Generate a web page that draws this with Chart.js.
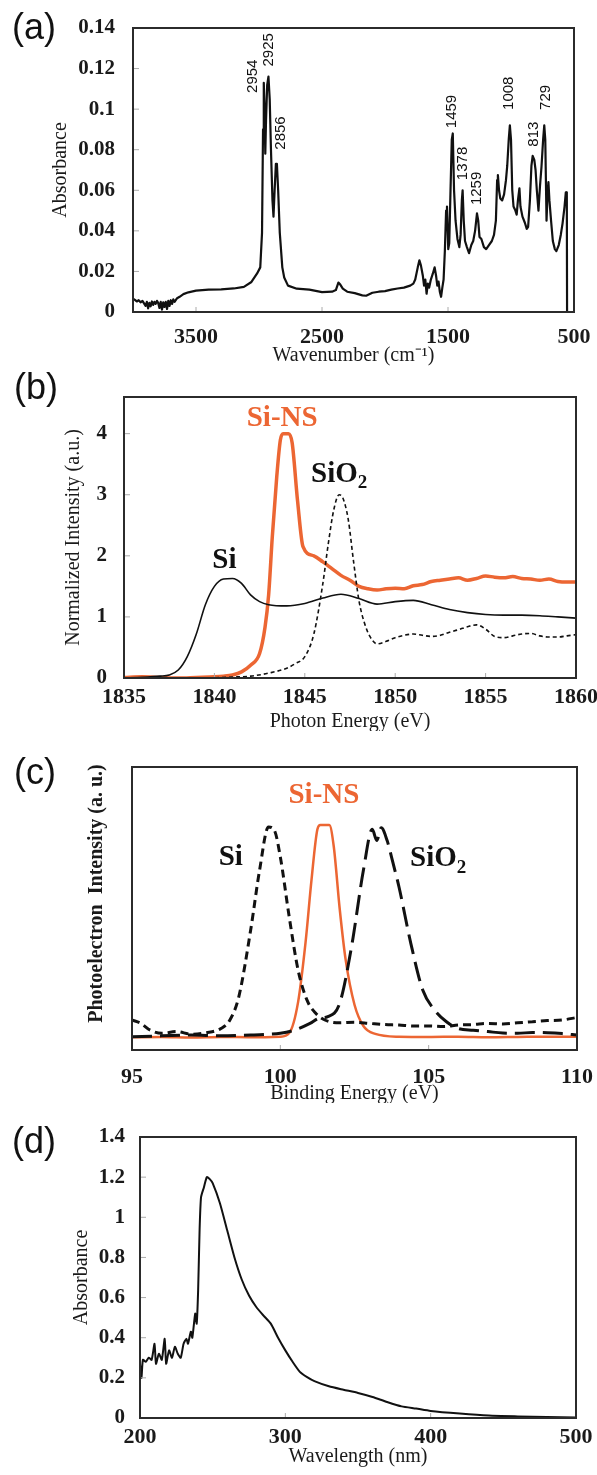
<!DOCTYPE html>
<html>
<head>
<meta charset="utf-8">
<script src="https://cdn.jsdelivr.net/npm/chart.js@4.4.0/dist/chart.umd.min.js"></script>
<style>
  body { margin: 0; background: #fff; width: 597px; height: 1475px; position: relative; overflow: hidden; }
  .panel { position: absolute; left: 0; width: 597px; overflow: hidden; }
  .panel canvas { display: block; }
  .tag { position: absolute; font-family: "Liberation Sans", Arial, sans-serif; font-size: 36px; line-height: 1; color: #111; }
</style>
</head>
<body>
<div class="panel" style="top:0;height:372px"><canvas id="chartA" width="597" height="372"></canvas></div>
<div class="panel" style="top:372px;height:359px"><canvas id="chartB" width="597" height="359"></canvas></div>
<div class="panel" style="top:731px;height:372px"><canvas id="chartC" width="597" height="372"></canvas></div>
<div class="panel" style="top:1103px;height:372px"><canvas id="chartD" width="597" height="372"></canvas></div>
<div class="tag" style="left:12px;top:9px">(a)</div>
<div class="tag" style="left:14px;top:369px">(b)</div>
<div class="tag" style="left:14px;top:754px">(c)</div>
<div class="tag" style="left:12px;top:1123px">(d)</div>

<script>
// (a) FTIR
const wnA = [4000,3985,3970,3955,3940,3925,3910,3900,3890,3880,3870,3860,3850,3840,3830,3820,3810,3800,3790,3780,3770,3760,3750,3740,3730,3720,3710,3700,3690,3680,3670,3650,3630,3600,3560,3500,3400,3300,3200,3120,3060,3015,2990,2976,2968,2962,2956,2950,2944,2935,2925,2915,2905,2893,2885,2876,2866,2858,2848,2835,2815,2800,2770,2700,2600,2500,2420,2390,2370,2355,2335,2300,2240,2180,2150,2100,2050,2000,1950,1900,1850,1800,1775,1760,1740,1727,1715,1700,1690,1680,1670,1660,1650,1636,1620,1606,1595,1585,1575,1565,1555,1545,1535,1525,1515,1508,1498,1490,1480,1470,1462,1452,1440,1425,1410,1400,1390,1384,1375,1365,1350,1333,1315,1300,1285,1270,1260,1250,1235,1215,1197,1175,1152,1135,1120,1110,1104,1095,1085,1070,1055,1040,1030,1018,1009,1000,990,980,965,955,945,933,925,909,890,875,864,850,838,828,815,805,795,782,770,758,745,736,728,718,712,703,695,682,668,652,640,621,605,591,575,565,560,557,555,500];
const absA = [0.0066,0.0060,0.0052,0.0058,0.0048,0.0055,0.0040,0.0030,0.0050,0.0018,0.0045,0.0028,0.0052,0.0035,0.0050,0.0040,0.0055,0.0045,0.0020,0.0050,0.0012,0.0048,0.0025,0.0050,0.0015,0.0055,0.0030,0.0058,0.0040,0.0062,0.0050,0.0068,0.0075,0.0088,0.0097,0.0105,0.0110,0.0112,0.0116,0.0124,0.0148,0.019,0.022,0.039,0.09,0.113,0.1,0.078,0.095,0.112,0.116,0.105,0.08,0.055,0.047,0.06,0.073,0.073,0.06,0.039,0.022,0.017,0.013,0.0115,0.011,0.0098,0.0100,0.0108,0.0145,0.0135,0.0115,0.0100,0.0093,0.0082,0.0080,0.0095,0.0100,0.0103,0.0110,0.0116,0.0120,0.0130,0.0140,0.0160,0.022,0.0255,0.023,0.018,0.013,0.016,0.009,0.014,0.012,0.016,0.019,0.022,0.018,0.013,0.015,0.010,0.0075,0.012,0.016,0.030,0.050,0.052,0.031,0.034,0.060,0.085,0.088,0.060,0.045,0.036,0.032,0.038,0.055,0.060,0.045,0.035,0.032,0.029,0.033,0.035,0.040,0.0486,0.045,0.037,0.036,0.032,0.031,0.033,0.035,0.038,0.045,0.065,0.0675,0.060,0.056,0.055,0.058,0.065,0.072,0.085,0.092,0.085,0.060,0.052,0.050,0.048,0.055,0.061,0.052,0.047,0.044,0.041,0.042,0.055,0.072,0.077,0.075,0.070,0.060,0.050,0.062,0.0716,0.085,0.092,0.085,0.045,0.055,0.064,0.055,0.045,0.035,0.031,0.030,0.033,0.038,0.0436,0.052,0.059,0.059,0.058,0,0];
const xTicksA = [3500, 2500, 1500, 500];
const yTicksA = [0, 0.02, 0.04, 0.06, 0.08, 0.1, 0.12, 0.14];
const peakLabels = ['2954', '2925', '2856', '1459', '1378', '1259', '1008', '813', '729'];
const peakLabelX = [3045, 2924, 2827, 1470, 1379, 1273, 1015, 818, 721];
const peakLabelY = [0.108, 0.121, 0.080, 0.0906, 0.065, 0.0527, 0.0996, 0.0815, 0.0996];

// (b) XANES
const evSi = [1835,1836,1837,1837.5,1838,1838.5,1839,1839.5,1840,1840.5,1841,1841.5,1842,1842.5,1843,1844,1845,1846,1847,1848,1849,1850,1851,1852,1853,1854,1855,1856,1857,1858,1859,1860];
const siB = [0,0.01,0.03,0.05,0.13,0.35,0.72,1.2,1.5,1.62,1.63,1.55,1.36,1.25,1.2,1.18,1.22,1.31,1.37,1.3,1.21,1.25,1.27,1.2,1.12,1.07,1.04,1.03,1.03,1.02,1.0,0.98];
const evNS = [1835,1836,1837,1838,1839,1840,1840.5,1841,1841.5,1842,1842.5,1842.8,1843,1843.2,1843.45,1843.65,1843.8,1844.1,1844.3,1844.6,1844.9,1845.5,1846,1846.5,1847,1847.5,1848,1848.5,1849,1849.5,1850,1850.5,1851,1851.5,1852,1852.5,1853,1853.5,1854,1854.5,1855,1855.5,1856,1856.5,1857,1857.5,1858,1858.5,1859,1859.5,1860];
const nsB = [0.01,0.02,0.01,0,0.01,0.02,0.03,0.05,0.1,0.21,0.4,0.83,1.36,2.3,3.3,3.9,4.0,4.0,3.85,2.9,2.15,2.0,1.9,1.79,1.68,1.6,1.5,1.46,1.44,1.46,1.47,1.46,1.51,1.53,1.58,1.6,1.62,1.64,1.6,1.63,1.67,1.65,1.64,1.66,1.63,1.62,1.6,1.62,1.58,1.57,1.57];
const evOx = [1835,1838,1840,1841,1842,1843,1844,1844.5,1845,1845.5,1846,1846.3,1846.6,1846.9,1847.1,1847.4,1847.7,1848,1848.3,1848.6,1849,1849.5,1850,1850.5,1851,1851.5,1852,1852.5,1853,1853.5,1854,1854.5,1855,1855.5,1856,1856.5,1857,1857.5,1858,1858.5,1859,1859.5,1860];
const oxB = [0,0,0.005,0.015,0.03,0.08,0.16,0.24,0.35,0.72,1.55,2.2,2.75,3.0,2.95,2.6,1.9,1.26,0.9,0.68,0.56,0.6,0.66,0.7,0.72,0.7,0.68,0.7,0.75,0.79,0.84,0.87,0.8,0.68,0.66,0.69,0.72,0.73,0.69,0.67,0.67,0.69,0.71];
const xTicksB = [1835, 1840, 1845, 1850, 1855, 1860];
const yTicksB = [0, 1, 2, 3, 4];

// (c) XPS
const beSi = [95,95.3,95.6,96,96.5,97,97.5,98,98.3,98.6,99,99.3,99.6,99.8,100,100.3,100.6,100.9,101.2,101.5,102,102.5,103,103.5,104,104.5,105,105.5,106,106.5,107,107.5,108,108.5,109,109.5,110];
const siC = [0.106,0.094,0.071,0.059,0.065,0.056,0.061,0.076,0.106,0.188,0.424,0.635,0.788,0.776,0.682,0.47,0.282,0.176,0.129,0.106,0.096,0.098,0.094,0.09,0.088,0.085,0.085,0.083,0.088,0.09,0.094,0.092,0.096,0.1,0.104,0.106,0.115];
const beOx = [95,96,97,98,99,99.5,100,100.5,101,101.3,101.6,102,102.4,102.8,103.1,103.25,103.4,103.6,103.8,104,104.4,104.8,105.2,105.6,106,106.5,107,107.5,108,108.5,109,109.5,110];
const oxC = [0.047,0.05,0.053,0.05,0.053,0.055,0.059,0.071,0.094,0.112,0.118,0.165,0.365,0.635,0.78,0.74,0.785,0.74,0.66,0.576,0.376,0.212,0.141,0.1,0.076,0.07,0.065,0.06,0.059,0.062,0.061,0.058,0.053];
const beNS = [95,96,97,98,99,100,100.3,100.6,100.85,101.05,101.25,101.35,101.65,101.8,102,102.2,102.5,102.8,103.2,104,105,106,107,108,109,110];
const nsC = [0.045,0.046,0.044,0.046,0.045,0.047,0.06,0.17,0.38,0.6,0.78,0.795,0.795,0.72,0.5,0.32,0.16,0.085,0.057,0.047,0.046,0.047,0.045,0.046,0.047,0.047];
const xTicksC = [95, 100, 105, 110];

// (d) UV-vis
const nmD = [200,201,202,204,206,208,210,211,213,215,217,218,220,222,224,226,228,230,232,233,235,236,238,239,240,241,242,244,246,248,250,255,260,265,270,275,280,285,290,295,300,305,310,315,320,330,340,350,360,370,380,390,400,420,440,460,480,500];
const absD = [0.27,0.20,0.29,0.28,0.30,0.29,0.37,0.27,0.32,0.29,0.395,0.27,0.337,0.30,0.355,0.32,0.30,0.37,0.395,0.37,0.43,0.40,0.52,0.47,0.636,0.935,1.10,1.15,1.20,1.19,1.17,1.07,0.935,0.80,0.69,0.61,0.553,0.51,0.47,0.40,0.337,0.28,0.23,0.204,0.184,0.158,0.141,0.125,0.105,0.08,0.058,0.047,0.035,0.022,0.012,0.008,0.005,0.002];
const xTicksD = [200, 300, 400, 500];
const yTicksD = [0, 0.2, 0.4, 0.6, 0.8, 1, 1.2, 1.4];

const serif = '"Liberation Serif", "Times New Roman", serif';
const sans = '"Liberation Sans", Arial, sans-serif';
const orange = '#EC6633';

const pts = (xs, ys) => xs.map((x, i) => ({ x: x, y: ys[i] }));

// box round the plot area and small inner tick marks
const frame = {
  id: 'frame',
  afterDatasetsDraw(chart) {
    const { ctx, chartArea: a } = chart;
    ctx.save();
    ctx.strokeStyle = '#aaa';
    ctx.lineWidth = 1;
    ['x', 'y'].forEach(id => {
      const s = chart.scales[id];
      s.ticks.forEach(t => {
        const p = s.getPixelForValue(t.value);
        ctx.beginPath();
        if (id === 'x') {
          if (p < a.left + 3 || p > a.right - 3) return;
          ctx.moveTo(p, a.bottom); ctx.lineTo(p, a.bottom - 5);
        } else {
          if (p < a.top + 3 || p > a.bottom - 3) return;
          ctx.moveTo(a.left, p); ctx.lineTo(a.left + 6, p);
        }
        ctx.stroke();
      });
    });
    ctx.strokeStyle = '#2b2b2b';
    ctx.lineWidth = 2;
    ctx.strokeRect(a.left, a.top, a.width, a.height);
    ctx.restore();
  }
};

// text placed in data coordinates
const notes = items => ({
  id: 'notes',
  afterDatasetsDraw(chart) {
    const ctx = chart.ctx;
    items.forEach(n => {
      const px = chart.scales.x.getPixelForValue(n.x);
      const py = chart.scales.y.getPixelForValue(n.y);
      ctx.save();
      ctx.translate(px, py);
      ctx.fillStyle = n.color || '#111';
      ctx.font = n.font;
      ctx.textBaseline = 'middle';
      ctx.textAlign = 'left';
      if (n.rotate) {
        ctx.rotate(-Math.PI / 2);
        ctx.fillText(n.text, 0, 0);
      } else {
        const w = ctx.measureText(n.text).width;
        let sw = 0;
        if (n.sub) { ctx.font = n.subFont; sw = ctx.measureText(n.sub).width; ctx.font = n.font; }
        ctx.fillText(n.text, -(w + sw) / 2, 0);
        if (n.sub) { ctx.font = n.subFont; ctx.fillText(n.sub, -(w + sw) / 2 + w, 9); }
      }
      ctx.restore();
    });
  }
});

function makeChart(id, cfg) {
  return new Chart(document.getElementById(id), {
    type: 'scatter',
    data: { datasets: cfg.datasets },
    options: {
      responsive: false,
      animation: false,
      devicePixelRatio: 1,
      layout: { padding: { top: cfg.top, right: cfg.right, left: 0, bottom: 0 } },
      plugins: { legend: { display: false }, tooltip: { enabled: false } },
      elements: { point: { radius: 0 } },
      scales: {
        x: {
          type: 'linear', min: cfg.xMin, max: cfg.xMax, reverse: !!cfg.reverse,
          grid: { display: false, drawTicks: false },
          border: { display: false },
          afterBuildTicks: s => { s.ticks = cfg.xTicks.map(v => ({ value: v })); },
          afterFit: s => { s.height = cfg.xHeight; s.paddingLeft = 0; s.paddingRight = 0; },
          ticks: { padding: cfg.xPad, autoSkip: false, maxRotation: 0, color: '#1a1a1a',
                   font: { family: serif, size: 22, weight: 'bold' }, callback: v => String(v) },
          title: { display: true, text: cfg.xTitle, color: '#1a1a1a',
                   font: { family: serif, size: 20 }, padding: { top: 0, bottom: cfg.xTitlePad } }
        },
        y: {
          type: 'linear', min: cfg.yMin, max: cfg.yMax,
          grid: { display: false, drawTicks: false },
          border: { display: false },
          afterBuildTicks: s => { s.ticks = cfg.yTicks.map(v => ({ value: v })); },
          afterFit: s => { s.width = cfg.yWidth; s.paddingTop = 0; s.paddingBottom = 0; },
          ticks: { display: cfg.yTicks.length > 0, padding: cfg.yPad, color: '#1a1a1a',
                   font: { family: serif, size: 21, weight: 'bold' }, callback: v => String(v) },
          title: { display: true, text: cfg.yTitle, color: '#1a1a1a',
                   font: { family: serif, size: cfg.yTitleSize || 20, weight: cfg.yTitleWeight || 'normal' },
                   padding: { top: cfg.yTitlePad, bottom: 0 } }
        }
      }
    },
    plugins: [frame, notes(cfg.notes || [])]
  });
}

const line = (data, color, width, extra) => Object.assign({
  data: data, showLine: true, borderColor: color, borderWidth: width,
  pointRadius: 0, borderJoinStyle: 'round', cubicInterpolationMode: 'monotone'
}, extra || {});

makeChart('chartA', {
  top: 28, right: 23, yWidth: 133, xHeight: 60,
  xMin: 500, xMax: 4000, reverse: true, xTicks: xTicksA, xPad: 12,
  xTitle: 'Wavenumber (cm\u207B\u00B9)', xTitlePad: 4,
  yMin: 0, yMax: 0.14, yTicks: yTicksA, yPad: 18, yTitle: 'Absorbance', yTitlePad: 49,
  datasets: [line(pts(wnA, absA), '#111', 2.2, { cubicInterpolationMode: 'default', tension: 0 })],
  notes: peakLabels.map((t, i) => ({ text: t, x: peakLabelX[i], y: peakLabelY[i], rotate: true, font: '15px ' + sans }))
});

makeChart('chartB', {
  top: 25, right: 21, yWidth: 124, xHeight: 53,
  xMin: 1835, xMax: 1860, xTicks: xTicksB, xPad: 6,
  xTitle: 'Photon Energy (eV)', xTitlePad: -3,
  yMin: 0, yMax: 4.6, yTicks: yTicksB, yPad: 17, yTitle: 'Normalized Intensity (a.u.)', yTitlePad: 62,
  datasets: [
    line(pts(evSi, siB), '#111', 1.6),
    line(pts(evOx, oxB), '#111', 1.6, { borderDash: [4, 3] }),
    line(pts(evNS, nsB), orange, 3.5)
  ],
  notes: [
    { text: 'Si-NS', x: 1843.75, y: 4.25, color: orange, font: 'bold 29px ' + serif },
    { text: 'SiO', sub: '2', x: 1846.9, y: 3.33, font: 'bold 29px ' + serif, subFont: 'bold 19px ' + serif },
    { text: 'Si', x: 1840.55, y: 1.92, font: 'bold 29px ' + serif }
  ]
});

makeChart('chartC', {
  top: 36, right: 20, yWidth: 132, xHeight: 53,
  xMin: 95, xMax: 110, xTicks: xTicksC, xPad: 14,
  xTitle: 'Binding Energy (eV)', xTitlePad: -3,
  yMin: 0, yMax: 1, yTicks: [], yPad: 0,
  yTitle: '\u00A0\u00A0\u00A0\u00A0\u00A0\u00A0Photoelectron  Intensity (a. u.)', yTitlePad: 85, yTitleWeight: 'bold',
  datasets: [
    line(pts(beSi, siC), '#111', 3, { borderDash: [8, 5] }),
    line(pts(beOx, oxC), '#111', 3, { borderDash: [20, 8] }),
    line(pts(beNS, nsC), orange, 2.5)
  ],
  notes: [
    { text: 'Si-NS', x: 101.47, y: 0.9, color: orange, font: 'bold 29px ' + serif },
    { text: 'Si', x: 98.33, y: 0.68, font: 'bold 29px ' + serif },
    { text: 'SiO', sub: '2', x: 105.32, y: 0.676, font: 'bold 29px ' + serif, subFont: 'bold 19px ' + serif }
  ]
});

makeChart('chartD', {
  top: 34, right: 21, yWidth: 140, xHeight: 57,
  xMin: 200, xMax: 500, xTicks: xTicksD, xPad: 6,
  xTitle: 'Wavelength (nm)', xTitlePad: 6,
  yMin: 0, yMax: 1.4, yTicks: yTicksD, yPad: 15, yTitle: 'Absorbance', yTitlePad: 70,
  datasets: [line(pts(nmD, absD), '#111', 2, { cubicInterpolationMode: 'default', tension: 0.2 })]
});
</script>
</body>
</html>
